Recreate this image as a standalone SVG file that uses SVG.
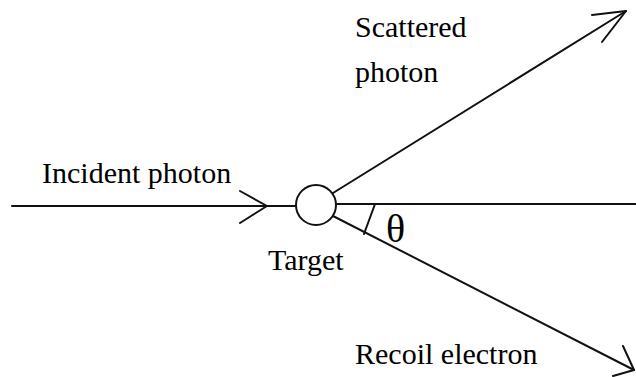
<svg xmlns="http://www.w3.org/2000/svg" width="636" height="377" viewBox="0 0 636 377">
<rect width="636" height="377" fill="#fff"/>
<g id="connectors" stroke="#111" stroke-width="2" fill="none" stroke-linecap="round" stroke-linejoin="round">
<path d="M12 206 L296 206"/>
<path d="M240 191 L267 206 L240 223"/>
<path d="M336 204 L636 204"/>
<path d="M333 193 L626 11"/>
<path d="M592 15 L626 11 L602 42"/>
<path d="M333 216 L634 370"/>
<path d="M623 346 L634 370 L613 376"/>
<path d="M375 204 L364 234"/>
</g>
<g id="target">
<circle cx="316" cy="205" r="20" stroke="#111" stroke-width="2" fill="none"/>
<text x="268" y="270" font-family="Times New Roman" font-size="30">Target</text>
</g>
<g id="incident">
<text x="42" y="183" font-family="Times New Roman" font-size="30">Incident photon</text>
</g>
<g id="scattered">
<text x="355" y="37" font-family="Times New Roman" font-size="30">Scattered</text>
<text x="355" y="82" font-family="Times New Roman" font-size="30">photon</text>
</g>
<g id="recoil">
<text x="355" y="364" font-family="Times New Roman" font-size="30">Recoil electron</text>
</g>
<g id="angle">
<text x="386" y="242" font-family="Times New Roman" font-size="40">θ</text>
</g>
</svg>
